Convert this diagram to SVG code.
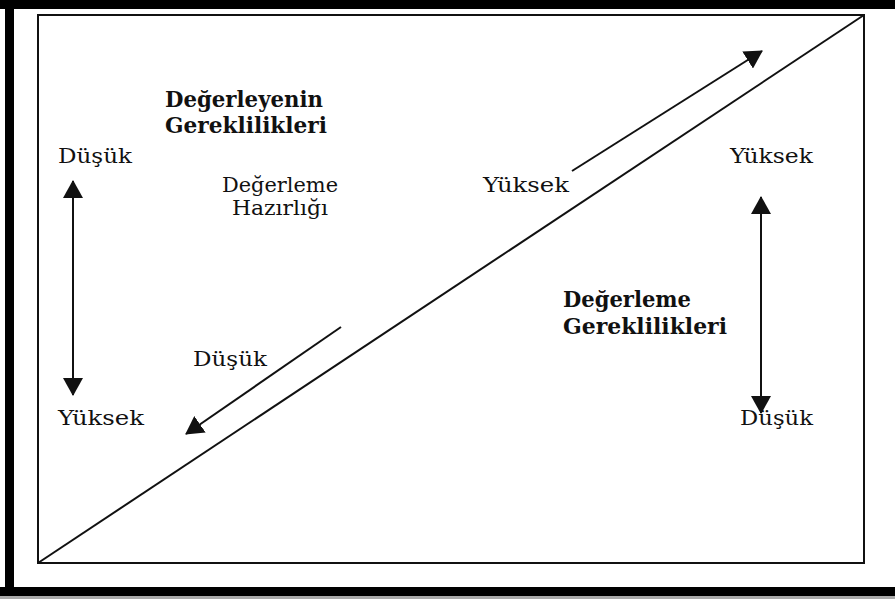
<svg xmlns="http://www.w3.org/2000/svg" width="895" height="599" viewBox="0 0 895 599">
<style>
.t{font-family:"DejaVu Serif","Liberation Serif",serif;font-size:21px;fill:#111}
.b{font-weight:bold;font-size:22px}
.ln{stroke:#111;stroke-width:2;fill:none}
</style>
<defs>
<marker id="ah" viewBox="0 0 18 20" refX="17" refY="10" markerWidth="18" markerHeight="20" markerUnits="userSpaceOnUse" orient="auto-start-reverse">
<path d="M0,0 L18,10 L0,20 Z" fill="#111"/>
</marker>
</defs>
<rect width="895" height="599" fill="#fff"/>
<g id="frame">
<rect x="0" y="596" width="895" height="3" fill="#aaa"/>
<rect x="0" y="0" width="895" height="9" fill="#000"/>
<rect x="5" y="0" width="9" height="596" fill="#000"/>
<rect x="0" y="587" width="895" height="9" fill="#000"/>
<rect x="38" y="15" width="826" height="548" fill="none" stroke="#111" stroke-width="2"/>
<line x1="38" y1="563" x2="864" y2="15" class="ln"/>
</g>
<g id="connectors">
<line x1="73" y1="181" x2="73" y2="395" class="ln" marker-start="url(#ah)" marker-end="url(#ah)"/>
<line x1="761" y1="197" x2="761" y2="413" class="ln" marker-start="url(#ah)" marker-end="url(#ah)"/>
<line x1="572" y1="171" x2="762" y2="51" class="ln" marker-end="url(#ah)"/>
<line x1="341" y1="327" x2="186" y2="434" class="ln" marker-end="url(#ah)"/>
</g>
<g id="left-title">
<text class="t b" x="165" y="107" textLength="158" lengthAdjust="spacingAndGlyphs">Değerleyenin</text>
<text class="t b" x="165" y="133" textLength="162" lengthAdjust="spacingAndGlyphs">Gereklilikleri</text>
</g>
<g id="left-sub">
<text class="t" x="222" y="192" textLength="116" lengthAdjust="spacingAndGlyphs">Değerleme</text>
<text class="t" x="232" y="215" textLength="96" lengthAdjust="spacingAndGlyphs">Hazırlığı</text>
</g>
<g id="left-low"><text class="t" x="58" y="163" textLength="74" lengthAdjust="spacingAndGlyphs">Düşük</text></g>
<g id="left-high"><text class="t" x="58" y="425" textLength="86" lengthAdjust="spacingAndGlyphs">Yüksek</text></g>
<g id="mid-low"><text class="t" x="193" y="366" textLength="74" lengthAdjust="spacingAndGlyphs">Düşük</text></g>
<g id="mid-high"><text class="t" x="483" y="192" textLength="86" lengthAdjust="spacingAndGlyphs">Yüksek</text></g>
<g id="right-high"><text class="t" x="730" y="163" textLength="83" lengthAdjust="spacingAndGlyphs">Yüksek</text></g>
<g id="right-title">
<text class="t b" x="563" y="307" textLength="128" lengthAdjust="spacingAndGlyphs">Değerleme</text>
<text class="t b" x="563" y="334" textLength="164" lengthAdjust="spacingAndGlyphs">Gereklilikleri</text>
</g>
<g id="right-low"><text class="t" x="740" y="425" textLength="73" lengthAdjust="spacingAndGlyphs">Düşük</text></g>
</svg>
